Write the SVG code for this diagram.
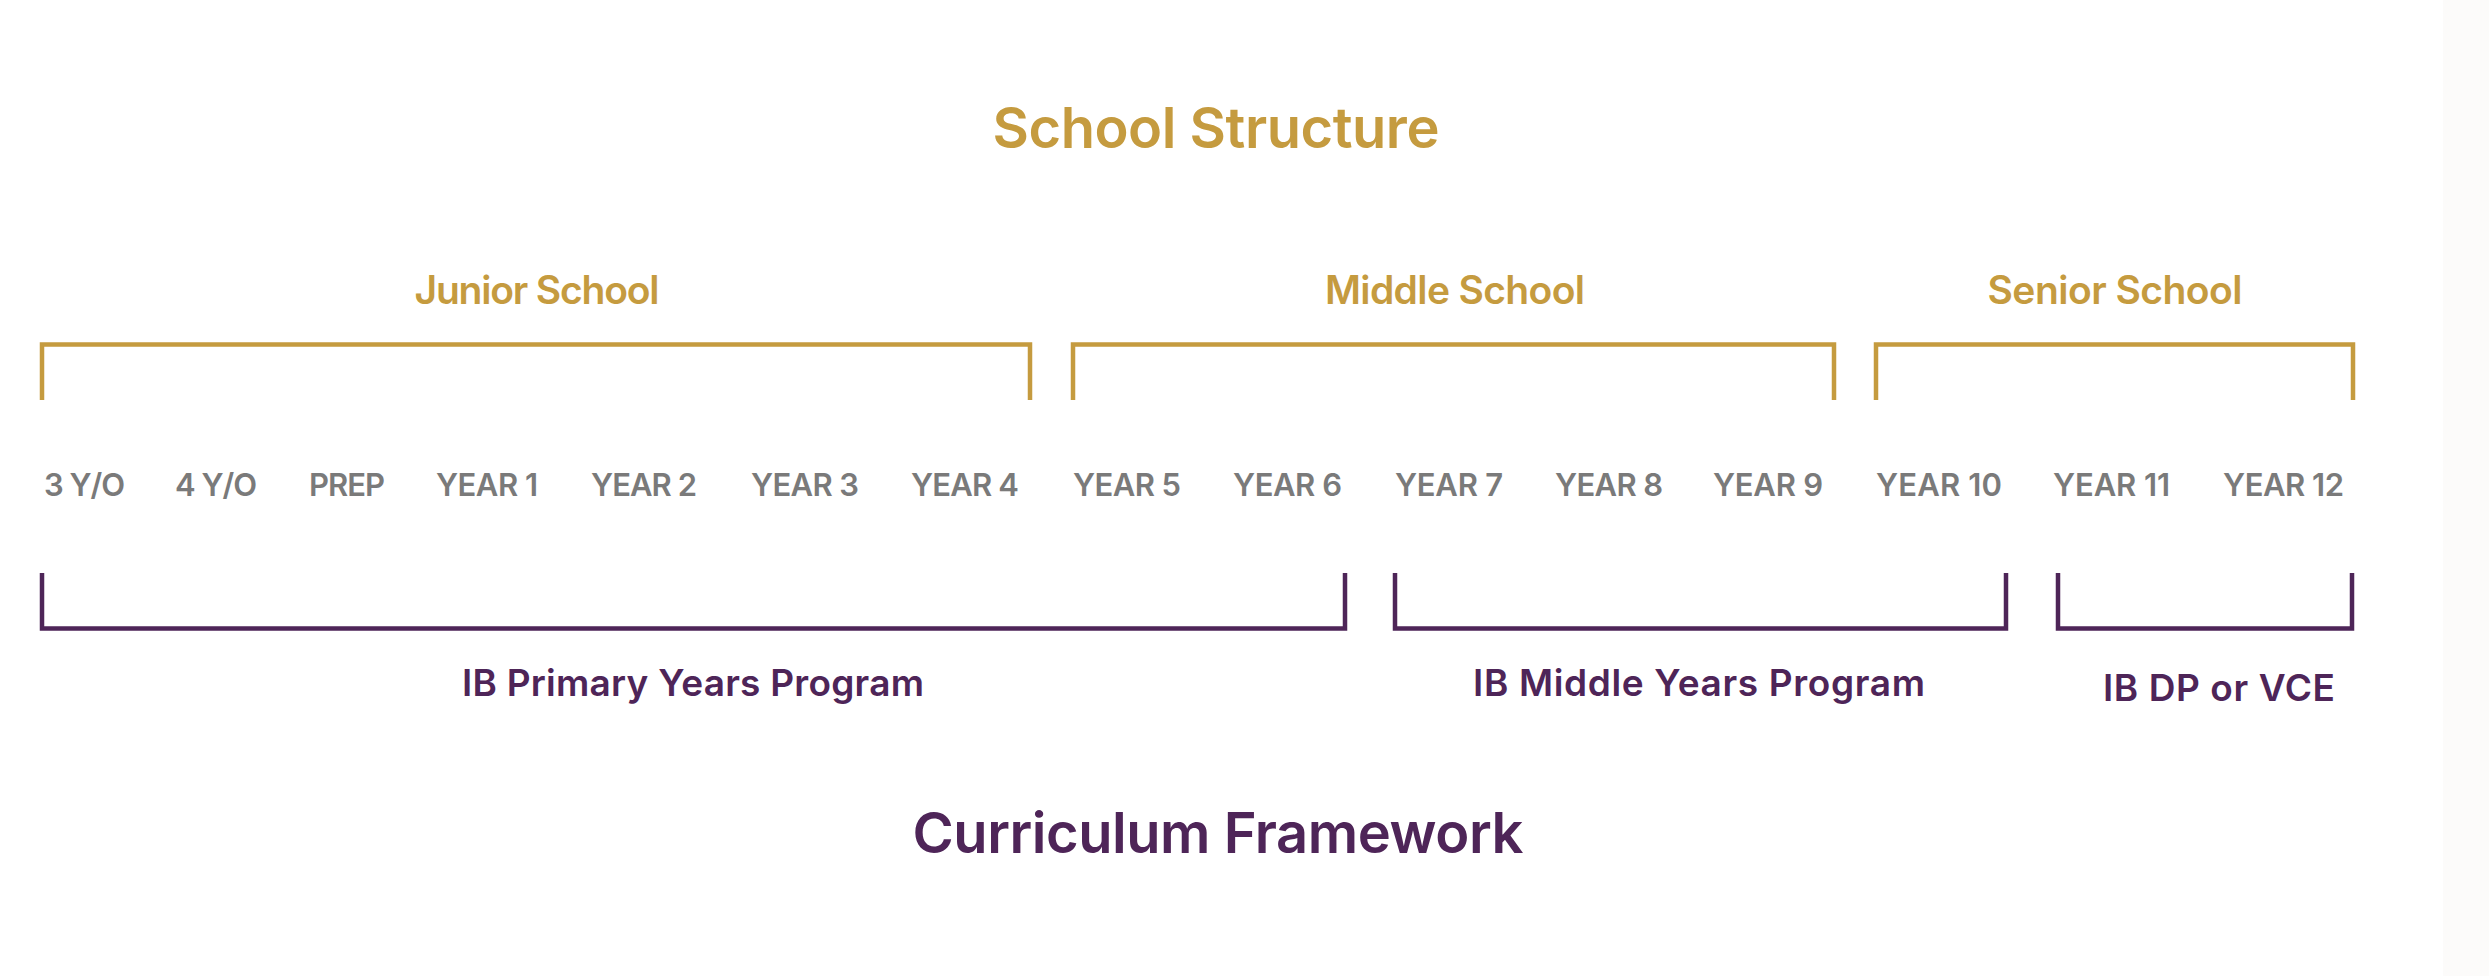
<svg xmlns="http://www.w3.org/2000/svg" width="2489" height="976" viewBox="0 0 2489 976">
<style>
text{font-family:Inter,"Liberation Sans",Arial,sans-serif;font-weight:600}
.gold{fill:#C59B3F}
.purple{fill:#4E2558}
.yr{fill:#7A7A7A;font-size:31px}
.gb{fill:none;stroke:#C59B3F;stroke-width:4.5;stroke-linejoin:miter}
.pb{fill:none;stroke:#4E2558;stroke-width:4.5;stroke-linejoin:miter}
.h1{font-size:56px;text-anchor:middle}
.h2{font-size:39px;text-anchor:middle}
.h3{font-size:37px;text-anchor:middle}
</style>
<rect x="0" y="0" width="2489" height="976" fill="#FFFFFF"/>
<rect x="2443" y="0" width="46" height="976" fill="#FCFBFA"/>
<g id="title-school-structure"><text class="gold h1" x="1216" y="148" textLength="447">School Structure</text></g>
<g id="connectors">
<path id="br-junior" class="gb" d="M42 400V344.5H1030V400"/>
<path id="br-middle" class="gb" d="M1073 400V344.5H1834V400"/>
<path id="br-senior" class="gb" d="M1876 400V344.5H2353V400"/>
<path id="br-pyp" class="pb" d="M42 573V628.5H1345V573"/>
<path id="br-myp" class="pb" d="M1395 573V628.5H2006V573"/>
<path id="br-dp" class="pb" d="M2058 573V628.5H2352V573"/>
</g>
<g id="junior-school"><text class="gold h2" x="537" y="304" textLength="245">Junior School</text></g>
<g id="middle-school"><text class="gold h2" x="1455" y="304" textLength="260">Middle School</text></g>
<g id="senior-school"><text class="gold h2" x="2115" y="304" textLength="255">Senior School</text></g>
<g id="years">
<g id="y-3yo"><text class="yr" x="44" y="496" textLength="81">3 Y/O</text></g>
<g id="y-4yo"><text class="yr" x="175" y="496" textLength="82">4 Y/O</text></g>
<g id="y-prep"><text class="yr" x="309" y="496" textLength="76">PREP</text></g>
<g id="y-1"><text class="yr" x="436" y="496" textLength="102">YEAR 1</text></g>
<g id="y-2"><text class="yr" x="591" y="496" textLength="106">YEAR 2</text></g>
<g id="y-3"><text class="yr" x="751" y="496" textLength="108">YEAR 3</text></g>
<g id="y-4"><text class="yr" x="911" y="496" textLength="108">YEAR 4</text></g>
<g id="y-5"><text class="yr" x="1073" y="496" textLength="108">YEAR 5</text></g>
<g id="y-6"><text class="yr" x="1233" y="496" textLength="109">YEAR 6</text></g>
<g id="y-7"><text class="yr" x="1395" y="496" textLength="108">YEAR 7</text></g>
<g id="y-8"><text class="yr" x="1555" y="496" textLength="108">YEAR 8</text></g>
<g id="y-9"><text class="yr" x="1713" y="496" textLength="110">YEAR 9</text></g>
<g id="y-10"><text class="yr" x="1876" y="496" textLength="126">YEAR 10</text></g>
<g id="y-11"><text class="yr" x="2053" y="496" textLength="117">YEAR 11</text></g>
<g id="y-12"><text class="yr" x="2223" y="496" textLength="121">YEAR 12</text></g>
</g>
<g id="ib-pyp"><text class="purple h3" x="693" y="696" textLength="462">IB Primary Years Program</text></g>
<g id="ib-myp"><text class="purple h3" x="1699" y="696" textLength="452">IB Middle Years Program</text></g>
<g id="ib-dp-vce"><text class="purple h3" x="2219" y="701" textLength="232">IB DP or VCE</text></g>
<g id="title-curriculum"><text class="purple h1" x="1218" y="853" textLength="611">Curriculum Framework</text></g>
</svg>
